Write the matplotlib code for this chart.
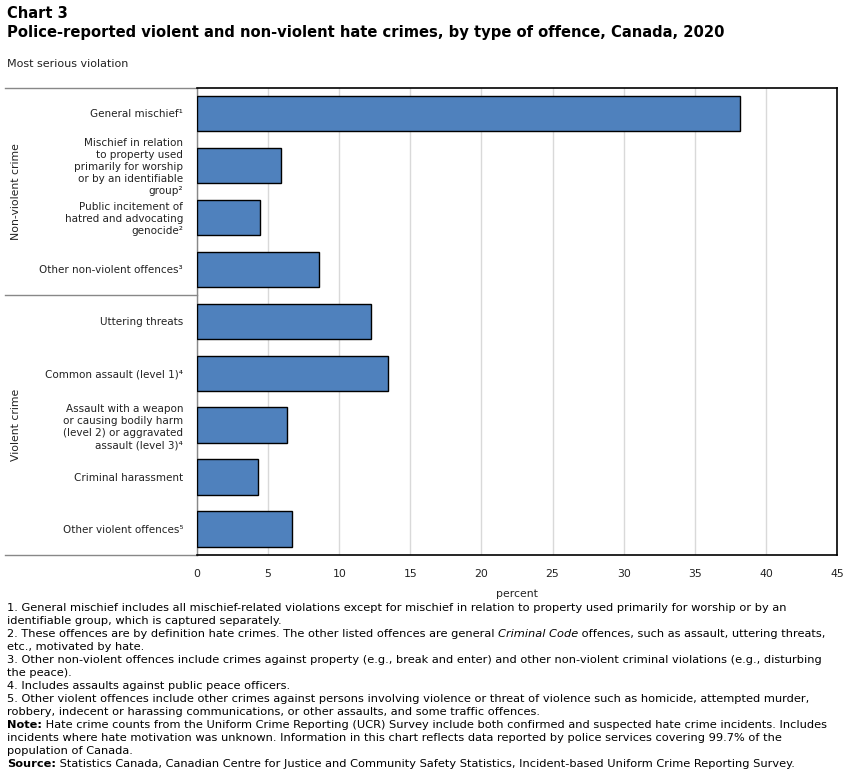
import matplotlib
matplotlib.use('Agg')
import matplotlib.pyplot as plt

# data (percent of hate crimes)
categories = [
    'General mischief\u00b9',
    'Mischief in relation\nto property used\nprimarily for worship\nor by an identifiable\ngroup\u00b2',
    'Public incitement of\nhatred and advocating\ngenocide\u00b2',
    'Other non-violent offences\u00b3',
    'Uttering threats',
    'Common assault (level 1)\u2074',
    'Assault with a weapon\nor causing bodily harm\n(level 2) or aggravated\nassault (level 3)\u2074',
    'Criminal harassment',
    'Other violent offences\u2075',
]
percent = [38.2, 5.9, 4.4, 8.6, 12.2, 13.4, 6.3, 4.3, 6.7]
groups = ['Non-violent crime', 'Violent crime']
group_sizes = [4, 5]
x_ticks = [0, 5, 10, 15, 20, 25, 30, 35, 40, 45]

footnotes = [
    '1. General mischief includes all mischief-related violations except for mischief in relation to property used primarily for worship or by an',
    'identifiable group, which is captured separately.',
    '2. These offences are by definition hate crimes. The other listed offences are general ',
    'etc., motivated by hate.',
    '3. Other non-violent offences include crimes against property (e.g., break and enter) and other non-violent criminal violations (e.g., disturbing',
    'the peace).',
    '4. Includes assaults against public peace officers.',
    '5. Other violent offences include other crimes against persons involving violence or threat of violence such as homicide, attempted murder,',
    'robbery, indecent or harassing communications, or other assaults, and some traffic offences.',
    'Hate crime counts from the Uniform Crime Reporting (UCR) Survey include both confirmed and suspected hate crime incidents. Includes',
    'incidents where hate motivation was unknown. Information in this chart reflects data reported by police services covering 99.7% of the',
    'population of Canada.',
    'Statistics Canada, Canadian Centre for Justice and Community Safety Statistics, Incident-based Uniform Crime Reporting Survey.',
]

W, H = 851, 775
fig = plt.figure(figsize=(W / 100, H / 100), dpi=100)
ax = fig.add_axes([197 / W, 1 - 555 / H, 640 / W, (555 - 87.5) / H])

bar_color = '#4f81bd'
ypos = list(range(len(categories)))
ax.barh(ypos, percent, height=0.68, color=bar_color, edgecolor='black', linewidth=1, zorder=3)
ax.set_ylim(len(categories) - 0.5, -0.5)
ax.set_xlim(0, 45)
ax.set_xticks(x_ticks)
ax.set_xticklabels([str(t) for t in x_ticks], fontsize=7.8, color='#222222')
ax.tick_params(axis='x', length=0, pad=10)
ax.set_yticks(ypos)
ax.set_yticklabels(categories, fontsize=7.5, color='#222222', linespacing=1.25)
ax.tick_params(axis='y', length=0, pad=10)
ax.grid(axis='x', color='#d9d9d9', linewidth=1, zorder=0)
ax.set_xlabel('percent', fontsize=7.8, color='#222222', labelpad=7)

for side in ['top', 'right', 'bottom']:
    ax.spines[side].set_color('black')
    ax.spines[side].set_linewidth(1.2)
ax.spines['left'].set_color('#888888')
ax.spines['left'].set_linewidth(1)

# group separators and group labels on the left
trans = ax.get_yaxis_transform()
x_left = (5 - 197) / 640
start = -0.5
for name, n in zip(groups, group_sizes):
    ax.plot([x_left, 0], [start, start], color='#888888', lw=1, transform=trans, clip_on=False)
    ax.text(x_left + 0.017, start + n / 2, name, rotation=90, ha='center', va='center',
            fontsize=7.8, color='#222222', transform=trans)
    start += n
ax.plot([x_left, 0], [start, start], color='#888888', lw=1, transform=trans, clip_on=False)

# titles
fig.text(7 / W, 1 - 14 / H, 'Chart 3', fontsize=10.5, fontweight='bold', va='center')
fig.text(7 / W, 1 - 32 / H,
         'Police-reported violent and non-violent hate crimes, by type of offence, Canada, 2020',
         fontsize=10.6, fontweight='bold', va='center')
fig.text(7 / W, 1 - 64 / H, 'Most serious violation', fontsize=8, color='#222222', va='center')

# footnotes
fs = 8.2
for i, line in enumerate(footnotes):
    y = 1 - (608 + 13 * i) / H
    if i == 2:
        t = fig.text(7 / W, y, line, fontsize=fs, va='center')
        t2 = fig.text(0, 0, 'Criminal Code', fontsize=fs, style='italic', va='center')
        fig.canvas.draw()
        bb = t.get_window_extent()
        t2.set_position((bb.x1 / W, y))
        fig.canvas.draw()
        bb2 = t2.get_window_extent()
        fig.text(bb2.x1 / W, y, ' offences, such as assault, uttering threats,', fontsize=fs, va='center')
    elif i == 9 or i == 12:
        lead = 'Note:' if i == 9 else 'Source:'
        t = fig.text(7 / W, y, lead, fontsize=fs, fontweight='bold', va='center')
        fig.canvas.draw()
        bb = t.get_window_extent()
        fig.text(bb.x1 / W, y, ' ' + line, fontsize=fs, va='center')
    else:
        fig.text(7 / W, y, line, fontsize=fs, va='center')

fig.savefig('out.png', dpi=100)
